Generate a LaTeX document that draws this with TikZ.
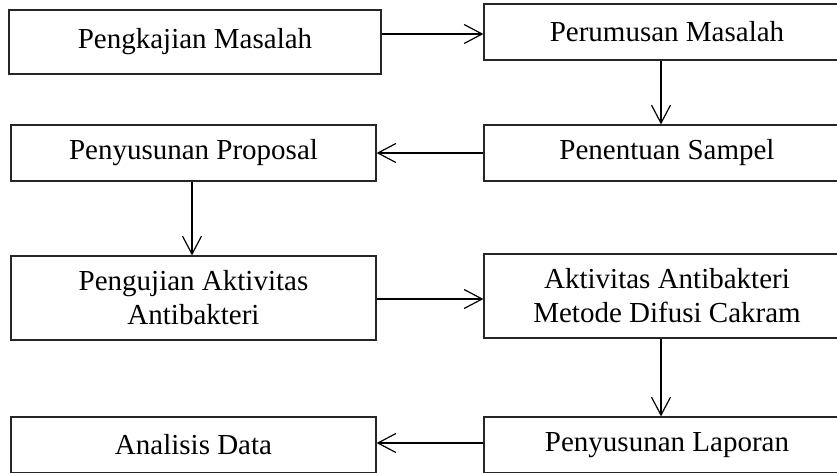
\documentclass[tikz,border=0pt]{standalone}
\usepackage{fontspec}
\setmainfont{Liberation Serif}
\usetikzlibrary{arrows.meta}
\begin{document}
\begin{tikzpicture}[x=1pt,y=-1pt,
  box/.style={draw=black!85, line width=1.2pt, inner sep=0pt, align=center,
    font=\fontsize{29}{34}\selectfont},
  arr/.style={draw=black, line width=1.2pt, -{Straight Barb[length=18pt,width=19pt,line width=1.2pt]}}]
\useasboundingbox (0,0) rectangle (837,472);
\clip (0,0) rectangle (837,472);
% left column
\node[box, minimum width=372pt, minimum height=64pt] (b1) at (195,42) {Pengkajian Masalah};
\node[box, minimum width=365pt, minimum height=56pt] (b3) at (193.5,153) {Penyusunan Proposal};
\node[box, minimum width=365pt, minimum height=84pt] (b5) at (193.5,298) {Pengujian Aktivitas\\Antibakteri};
\node[box, minimum width=365pt, minimum height=56pt] (b7) at (193.5,445) {Analisis Data};
% right column
\node[box, minimum width=366pt, minimum height=56pt] (b2) at (667,32) {Perumusan Masalah};
\node[box, minimum width=366pt, minimum height=56pt] (b4) at (667,153) {Penentuan Sampel};
\node[box, minimum width=366pt, minimum height=84pt] (b6) at (667,296) {Aktivitas Antibakteri\\Metode Difusi Cakram};
\node[box, minimum width=366pt, minimum height=56pt] (b8) at (667,445) {Penyusunan Laporan};
% helper coordinates
\coordinate (r1) at (0,34);
\coordinate (cR) at (661,0);
\coordinate (cL) at (192,0);
\coordinate (r5) at (0,299);
\coordinate (r7) at (0,443);
% connectors
\draw[arr] (b1.east |- r1) -- (b2.west |- r1);
\draw[arr] (b2.south -| cR) -- (b4.north -| cR);
\draw[arr] (b4.west) -- (b3.east);
\draw[arr] (b3.south -| cL) -- (b5.north -| cL);
\draw[arr] (b5.east |- r5) -- (b6.west |- r5);
\draw[arr] (b6.south -| cR) -- (b8.north -| cR);
\draw[arr] (b8.west |- r7) -- (b7.east |- r7);
\end{tikzpicture}
\end{document}
